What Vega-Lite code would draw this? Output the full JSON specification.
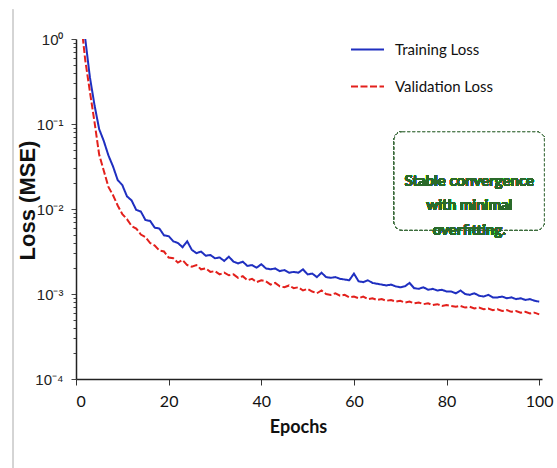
{
  "$schema": "https://vega.github.io/schema/vega-lite/v6.json",
  "width": 466,
  "height": 340,
  "autosize": {"type": "none"},
  "padding": {"left": 76, "top": 39, "right": 15, "bottom": 89},
  "background": "#ffffff",
  "config": {"view": {"stroke": null}, "font": "Lato"},
  "data": {"values": [
    {"epoch":1,"Training Loss":2.0,"Validation Loss":1.78},
    {"epoch":2,"Training Loss":1.0,"Validation Loss":0.562},
    {"epoch":3,"Training Loss":0.355,"Validation Loss":0.240},
    {"epoch":4,"Training Loss":0.166,"Validation Loss":0.105},
    {"epoch":5,"Training Loss":0.0871,"Validation Loss":0.0437},
    {"epoch":6,"Training Loss":0.0631,"Validation Loss":0.0282},
    {"epoch":7,"Training Loss":0.0427,"Validation Loss":0.0182},
    {"epoch":8,"Training Loss":0.0316,"Validation Loss":0.0145},
    {"epoch":9,"Training Loss":0.0219,"Validation Loss":0.0110},
    {"epoch":10,"Training Loss":0.0191,"Validation Loss":0.00871},
    {"epoch":11,"Training Loss":0.0141,"Validation Loss":0.00759},
    {"epoch":12,"Training Loss":0.0126,"Validation Loss":0.00631},
    {"epoch":13,"Training Loss":0.00977,"Validation Loss":0.00589},
    {"epoch":14,"Training Loss":0.00933,"Validation Loss":0.00501},
    {"epoch":15,"Training Loss":0.00741,"Validation Loss":0.00468},
    {"epoch":16,"Training Loss":0.00724,"Validation Loss":0.00398},
    {"epoch":17,"Training Loss":0.00603,"Validation Loss":0.00372},
    {"epoch":18,"Training Loss":0.00589,"Validation Loss":0.00324},
    {"epoch":19,"Training Loss":0.00490,"Validation Loss":0.00316},
    {"epoch":20,"Training Loss":0.00479,"Validation Loss":0.00269},
    {"epoch":21,"Training Loss":0.00417,"Validation Loss":0.00263},
    {"epoch":22,"Training Loss":0.00398,"Validation Loss":0.00234},
    {"epoch":23,"Training Loss":0.00355,"Validation Loss":0.00251},
    {"epoch":24,"Training Loss":0.00417,"Validation Loss":0.00219},
    {"epoch":25,"Training Loss":0.00331,"Validation Loss":0.00209},
    {"epoch":26,"Training Loss":0.00302,"Validation Loss":0.00219},
    {"epoch":27,"Training Loss":0.00316,"Validation Loss":0.00195},
    {"epoch":28,"Training Loss":0.00282,"Validation Loss":0.00200},
    {"epoch":29,"Training Loss":0.00288,"Validation Loss":0.00182},
    {"epoch":30,"Training Loss":0.00263,"Validation Loss":0.00186},
    {"epoch":31,"Training Loss":0.00269,"Validation Loss":0.00170},
    {"epoch":32,"Training Loss":0.00245,"Validation Loss":0.00178},
    {"epoch":33,"Training Loss":0.00275,"Validation Loss":0.00166},
    {"epoch":34,"Training Loss":0.00240,"Validation Loss":0.00170},
    {"epoch":35,"Training Loss":0.00229,"Validation Loss":0.00155},
    {"epoch":36,"Training Loss":0.00240,"Validation Loss":0.00162},
    {"epoch":37,"Training Loss":0.00214,"Validation Loss":0.00145},
    {"epoch":38,"Training Loss":0.00219,"Validation Loss":0.00151},
    {"epoch":39,"Training Loss":0.00204,"Validation Loss":0.00138},
    {"epoch":40,"Training Loss":0.00224,"Validation Loss":0.00145},
    {"epoch":41,"Training Loss":0.00200,"Validation Loss":0.00141},
    {"epoch":42,"Training Loss":0.00195,"Validation Loss":0.00129},
    {"epoch":43,"Training Loss":0.00200,"Validation Loss":0.00135},
    {"epoch":44,"Training Loss":0.00186,"Validation Loss":0.00123},
    {"epoch":45,"Training Loss":0.00191,"Validation Loss":0.00120},
    {"epoch":46,"Training Loss":0.00178,"Validation Loss":0.00126},
    {"epoch":47,"Training Loss":0.00182,"Validation Loss":0.00117},
    {"epoch":48,"Training Loss":0.00178,"Validation Loss":0.00120},
    {"epoch":49,"Training Loss":0.00195,"Validation Loss":0.00110},
    {"epoch":50,"Training Loss":0.00170,"Validation Loss":0.00115},
    {"epoch":51,"Training Loss":0.00174,"Validation Loss":0.00107},
    {"epoch":52,"Training Loss":0.00158,"Validation Loss":0.00102},
    {"epoch":53,"Training Loss":0.00178,"Validation Loss":0.00110},
    {"epoch":54,"Training Loss":0.00158,"Validation Loss":0.00100},
    {"epoch":55,"Training Loss":0.00155,"Validation Loss":0.000977},
    {"epoch":56,"Training Loss":0.00158,"Validation Loss":0.00102},
    {"epoch":57,"Training Loss":0.00151,"Validation Loss":0.000955},
    {"epoch":58,"Training Loss":0.00148,"Validation Loss":0.000977},
    {"epoch":59,"Training Loss":0.00145,"Validation Loss":0.000912},
    {"epoch":60,"Training Loss":0.00174,"Validation Loss":0.000933},
    {"epoch":61,"Training Loss":0.00141,"Validation Loss":0.000891},
    {"epoch":62,"Training Loss":0.00138,"Validation Loss":0.000933},
    {"epoch":63,"Training Loss":0.00145,"Validation Loss":0.000871},
    {"epoch":64,"Training Loss":0.00135,"Validation Loss":0.000891},
    {"epoch":65,"Training Loss":0.00132,"Validation Loss":0.000851},
    {"epoch":66,"Training Loss":0.00129,"Validation Loss":0.000871},
    {"epoch":67,"Training Loss":0.00126,"Validation Loss":0.000832},
    {"epoch":68,"Training Loss":0.00129,"Validation Loss":0.000851},
    {"epoch":69,"Training Loss":0.00123,"Validation Loss":0.000813},
    {"epoch":70,"Training Loss":0.00120,"Validation Loss":0.000832},
    {"epoch":71,"Training Loss":0.00123,"Validation Loss":0.000794},
    {"epoch":72,"Training Loss":0.00135,"Validation Loss":0.000813},
    {"epoch":73,"Training Loss":0.00117,"Validation Loss":0.000776},
    {"epoch":74,"Training Loss":0.00115,"Validation Loss":0.000794},
    {"epoch":75,"Training Loss":0.00120,"Validation Loss":0.000759},
    {"epoch":76,"Training Loss":0.00112,"Validation Loss":0.000776},
    {"epoch":77,"Training Loss":0.00115,"Validation Loss":0.000741},
    {"epoch":78,"Training Loss":0.00110,"Validation Loss":0.000759},
    {"epoch":79,"Training Loss":0.00112,"Validation Loss":0.000724},
    {"epoch":80,"Training Loss":0.00107,"Validation Loss":0.000741},
    {"epoch":81,"Training Loss":0.00107,"Validation Loss":0.000724},
    {"epoch":82,"Training Loss":0.00102,"Validation Loss":0.000708},
    {"epoch":83,"Training Loss":0.00110,"Validation Loss":0.000724},
    {"epoch":84,"Training Loss":0.00100,"Validation Loss":0.000692},
    {"epoch":85,"Training Loss":0.000977,"Validation Loss":0.000708},
    {"epoch":86,"Training Loss":0.00102,"Validation Loss":0.000676},
    {"epoch":87,"Training Loss":0.000955,"Validation Loss":0.000692},
    {"epoch":88,"Training Loss":0.000933,"Validation Loss":0.000661},
    {"epoch":89,"Training Loss":0.000977,"Validation Loss":0.000676},
    {"epoch":90,"Training Loss":0.000912,"Validation Loss":0.000646},
    {"epoch":91,"Training Loss":0.000912,"Validation Loss":0.000661},
    {"epoch":92,"Training Loss":0.000933,"Validation Loss":0.000631},
    {"epoch":93,"Training Loss":0.000891,"Validation Loss":0.000646},
    {"epoch":94,"Training Loss":0.000912,"Validation Loss":0.000617},
    {"epoch":95,"Training Loss":0.000871,"Validation Loss":0.000631},
    {"epoch":96,"Training Loss":0.000891,"Validation Loss":0.000603},
    {"epoch":97,"Training Loss":0.000851,"Validation Loss":0.000617},
    {"epoch":98,"Training Loss":0.000871,"Validation Loss":0.000589},
    {"epoch":99,"Training Loss":0.000832,"Validation Loss":0.000603},
    {"epoch":100,"Training Loss":0.000813,"Validation Loss":0.000575}
  ]},
  "layer": [
    {
      "mark": {"type": "rule", "color": "#d4d4d4", "strokeWidth": 1, "clip": false},
      "encoding": {
        "x": {"datum": -13.6, "type": "quantitative"},
        "y": {"datum": 2.2, "type": "quantitative"},
        "y2": {"datum": 0.000008}
      }
    },
    {
      "transform": [{"fold": ["Training Loss", "Validation Loss"], "as": ["series", "loss"]}],
      "mark": {"type": "line", "strokeWidth": 2, "clip": true},
      "encoding": {
        "x": {
          "field": "epoch", "type": "quantitative",
          "scale": {"domain": [0, 100.6], "nice": false, "zero": false},
          "axis": {
            "values": [0, 20, 40, 60, 80, 100],
            "title": "Epochs",
            "titleFont": "Lato", "titleFontSize": 18, "titleFontWeight": "bold", "titleColor": "#111111",
            "titleX": 222, "titleAlign": "center", "titlePadding": 9,
            "labelFont": "Lato", "labelFontSize": 16, "labelColor": "#111111", "labelPadding": 8,
            "tickSize": 6, "tickColor": "#333333", "tickWidth": 1,
            "domainColor": "#222222", "domainWidth": 1.5, "grid": false
          }
        },
        "y": {
          "field": "loss", "type": "quantitative",
          "scale": {"type": "log", "domain": [0.0001, 1], "nice": false},
          "axis": {
            "values": [0.0001,0.0002,0.0003,0.0004,0.0005,0.0006,0.0007,0.0008,0.0009,0.001,0.002,0.003,0.004,0.005,0.006,0.007,0.008,0.009,0.01,0.02,0.03,0.04,0.05,0.06,0.07,0.08,0.09,0.1,0.2,0.3,0.4,0.5,0.6,0.7,0.8,0.9,1],
            "labelExpr": "abs(log(datum.value)/LN10 - round(log(datum.value)/LN10)) < 1e-6 ? ['10⁰','10⁻¹','10⁻²','10⁻³','10⁻⁴'][-round(log(datum.value)/LN10)] : ''",
            "labelFont": "Liberation Sans", "labelFontSize": 15, "labelColor": "#222222", "labelPadding": 8,
            "tickSize": {"condition": {"test": "abs(log(datum.value)/LN10 - round(log(datum.value)/LN10)) < 1e-6", "value": 5}, "value": 3},
            "tickColor": "#444444", "tickWidth": 1,
            "domainColor": "#222222", "domainWidth": 1.5, "grid": false,
            "labelOverlap": false,
            "title": "Loss (MSE)",
            "titleFont": "Liberation Sans", "titleFontSize": 22, "titleFontWeight": "bold", "titleColor": "#111111",
            "titleAngle": 270, "titleAlign": "center", "titleBaseline": "middle",
            "titleX": -49, "titleY": 161
          }
        },
        "color": {
          "field": "series", "type": "nominal",
          "scale": {"domain": ["Training Loss", "Validation Loss"], "range": ["#1f2fc0", "#e3201c"]},
          "legend": {
            "title": null, "orient": "none", "legendX": 274, "legendY": -7,
            "symbolType": "stroke", "symbolSize": 1089, "symbolStrokeWidth": 2,
            "labelFont": "Lato", "labelFontSize": 15, "labelColor": "#111111", "labelOffset": 10,
            "rowPadding": 11, "padding": 0
          }
        },
        "strokeDash": {
          "field": "series", "type": "nominal",
          "scale": {"domain": ["Training Loss", "Validation Loss"], "range": [[1, 0], [7, 2.5]]},
          "legend": {
            "title": null, "orient": "none", "legendX": 274, "legendY": -7,
            "symbolType": "stroke", "symbolSize": 1089, "symbolStrokeWidth": 2,
            "labelFont": "Lato", "labelFontSize": 15, "labelColor": "#111111", "labelOffset": 10,
            "rowPadding": 11, "padding": 0
          }
        }
      }
    },
    {
      "mark": {"type": "rect", "fill": "#ffffff", "stroke": "#3f6e3f", "strokeWidth": 1, "strokeDash": [3, 2], "cornerRadius": 8, "clip": false},
      "encoding": {
        "x": {"datum": 68.7, "type": "quantitative"},
        "x2": {"datum": 101.1},
        "y": {"datum": 0.0808, "type": "quantitative"},
        "y2": {"datum": 0.00566}
      }
    },
    {
      "mark": {"type": "text", "align": "center", "baseline": "middle", "lineBreak": "\n", "lineHeight": 24.5, "font": "Lato", "fontSize": 15, "fontWeight": "bold", "color": "#2a6a2a", "clip": false},
      "encoding": {
        "x": {"datum": 84.9, "type": "quantitative"},
        "y": {"datum": 0.0214, "type": "quantitative"},
        "text": {"value": "Stable convergence\nwith minimal\noverfitting."}
      }
    }
  ]
}
